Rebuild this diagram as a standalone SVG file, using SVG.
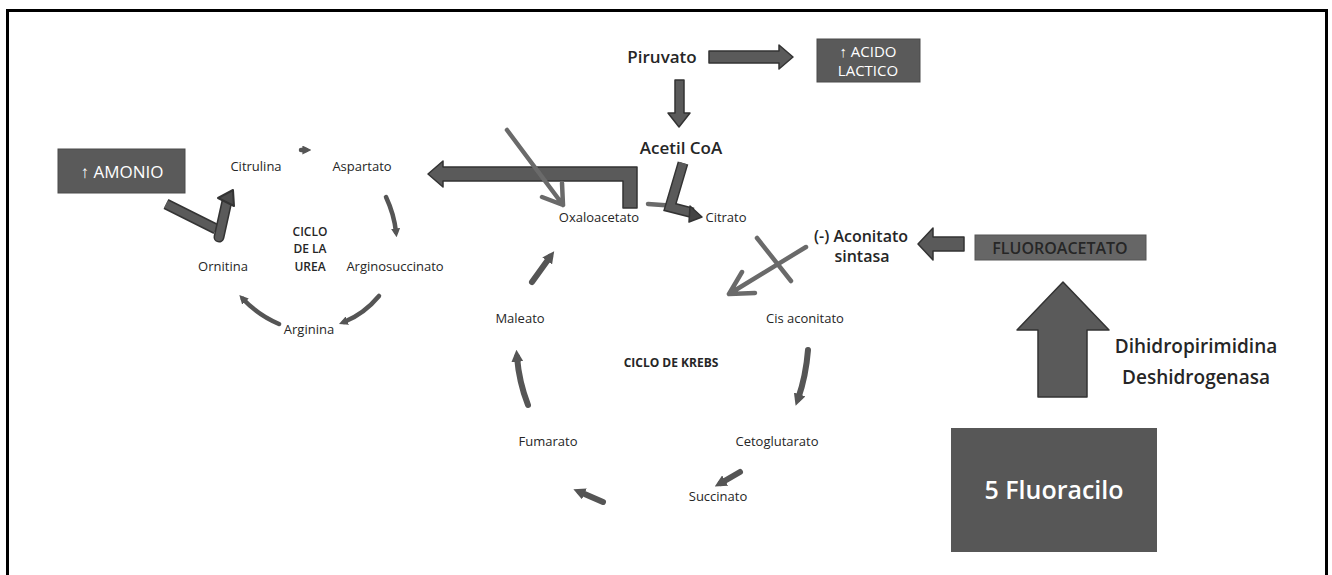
<svg xmlns="http://www.w3.org/2000/svg" width="1332" height="575" viewBox="0 0 1332 575">
<style>
text{font-family:"Open Sans","Liberation Sans",sans-serif;fill:#262626;text-anchor:middle}
.s{font-size:13px}
.m{font-size:17px;font-weight:600}
.w{fill:#fff}
.box{fill:#5a5a5a;stroke:#4a4a4a;stroke-width:1}
.blk{fill:#5a5a5a;stroke:#333;stroke-width:1.5;stroke-linejoin:round}
.thin{fill:none;stroke:#6a6a6a;stroke-width:4.5;stroke-linecap:round;stroke-linejoin:round}
.cyc{fill:none;stroke:#555;stroke-width:6;stroke-linecap:round}
.cyc4{fill:none;stroke:#555;stroke-width:4.5;stroke-linecap:round}
.thick{fill:none;stroke:#333;stroke-width:11;stroke-linejoin:miter}
.thickIn{fill:none;stroke:#5a5a5a;stroke-width:8;stroke-linejoin:miter}
</style>
<defs>
<marker id="hd" viewBox="0 0 10 10" refX="4" refY="5" markerWidth="2" markerHeight="2" orient="auto">
<path d="M0,0 L10,5 L0,10 z" fill="#555"/>
</marker>
</defs>
<rect width="1332" height="575" fill="#fff"/>
<path d="M7.5,600 V10.5 H1326.5 V600" fill="none" stroke="#000" stroke-width="3"/>

<g id="connectors">
<path class="blk" d="M709,51 H779 V45 L793,57 L779,69 V63 H709 Z"/>
<path class="blk" d="M675,80 H684 V113 H690 L679,127 L668,113 H675 Z"/>
<path class="blk" d="M637,208 V167 H443 V161 L428,174 L443,187 V181 H623 V208 Z"/>
<path class="thin" d="M507,130 L563,205 M542,197 L563,205 L562,183"/>
<path class="thin" d="M648,204 L676,206" stroke="#777"/>
<path class="thick" d="M683,163 L670,207 L693,213"/>
<path class="thickIn" d="M683,163 L670,207 L693,213"/>
<path d="M690,206 L702,217 L689,222 Z" fill="#444" stroke="#333" stroke-width="1.5" stroke-linejoin="round"/>
<path class="thin" d="M757,238 L791,281" stroke="#555" stroke-width="5"/>
<path class="thin" d="M806,247 L729,294 M742,272 L729,294 L755,293" stroke-width="5"/>
<path class="blk" d="M964,237 H933 V228 L918,244 L933,260 V251 H964 Z"/>
<path class="blk" d="M1038,397 V330 H1017 L1063,282 L1109,330 H1087 V397 Z"/>
<path class="thick" d="M166,204 L216,229"/>
<path class="thickIn" d="M166,204 L216,229"/>
<path class="thick" d="M219,237 L227,201" stroke-linecap="round"/>
<path class="thickIn" d="M219,237 L227,201" stroke-linecap="round"/>
<path d="M218,198 L233,190 L234,206 Z" fill="#4a4a4a" stroke="#333" stroke-width="2" stroke-linejoin="round"/>
<path class="cyc4" d="M301,150 L306,150" marker-end="url(#hd)"/>
<path class="cyc4" d="M386,197 Q394,214 396,232" marker-end="url(#hd)"/>
<path class="cyc4" d="M379,296 Q364,314 344,322" marker-end="url(#hd)"/>
<path class="cyc4" d="M279,324 Q258,315 243,299" marker-end="url(#hd)"/>
<path class="cyc" d="M532,282 L550,257" marker-end="url(#hd)"/>
<path class="cyc" d="M528,405 Q519,382 517,357" marker-end="url(#hd)"/>
<path class="cyc" d="M603,502 L580,492" marker-end="url(#hd)"/>
<path class="cyc" d="M740,472 L721,483" marker-end="url(#hd)"/>
<path class="cyc" d="M808,350 Q806,376 798,399" marker-end="url(#hd)"/>
</g>

<g id="piruvato"><text class="m" x="662" y="63" font-size="16">Piruvato</text></g>
<g id="acido-lactico">
<rect class="box" x="817" y="39" width="103" height="43"/>
<text class="w" x="868" y="57" font-size="15">↑ ACIDO</text>
<text class="w" x="868" y="76" font-size="15">LACTICO</text>
</g>
<g id="acetil-coa"><text class="m" x="681" y="154">Acetil CoA</text></g>
<g id="oxaloacetato"><text class="s" x="599" y="222">Oxaloacetato</text></g>
<g id="citrato"><text class="s" x="726" y="222">Citrato</text></g>
<g id="aconitato-sintasa">
<text x="861" y="242" font-size="16" font-weight="600">(-) Aconitato</text>
<text x="862" y="262" font-size="16" font-weight="600">sintasa</text>
</g>
<g id="fluoroacetato">
<rect x="975" y="235" width="171" height="25" fill="#666" stroke="#555"/>
<text x="1060" y="254" font-size="16" font-weight="600" fill="#222">FLUOROACETATO</text>
</g>
<g id="dpd-label">
<text x="1196" y="353" font-size="19" font-weight="600">Dihidropirimidina</text>
<text x="1196" y="384" font-size="19" font-weight="600">Deshidrogenasa</text>
</g>
<g id="fluoracilo">
<rect x="951" y="428" width="206" height="124" fill="#575757"/>
<text class="w" x="1054" y="499" font-size="25" font-weight="600">5 Fluoracilo</text>
</g>
<g id="cis-aconitato"><text class="s" x="805" y="323">Cis aconitato</text></g>
<g id="maleato"><text class="s" x="520" y="323">Maleato</text></g>
<g id="ciclo-krebs"><text x="671" y="367" font-size="12" font-weight="700">CICLO DE KREBS</text></g>
<g id="fumarato"><text class="s" x="548" y="446">Fumarato</text></g>
<g id="cetoglutarato"><text class="s" x="777" y="446">Cetoglutarato</text></g>
<g id="succinato"><text class="s" x="718" y="501">Succinato</text></g>
<g id="amonio">
<rect class="box" x="58" y="149" width="127" height="44"/>
<text class="w" x="122" y="178" font-size="17">↑ AMONIO</text>
</g>
<g id="citrulina"><text class="s" x="256" y="171">Citrulina</text></g>
<g id="aspartato"><text class="s" x="362" y="171">Aspartato</text></g>
<g id="ciclo-urea">
<text x="310" y="236" font-size="12" font-weight="600">CICLO</text>
<text x="310" y="253" font-size="12" font-weight="600">DE LA</text>
<text x="310" y="271" font-size="12" font-weight="600">UREA</text>
</g>
<g id="ornitina"><text class="s" x="223" y="271">Ornitina</text></g>
<g id="arginosuccinato"><text class="s" x="395" y="271">Arginosuccinato</text></g>
<g id="arginina"><text class="s" x="309" y="334">Arginina</text></g>
</svg>
